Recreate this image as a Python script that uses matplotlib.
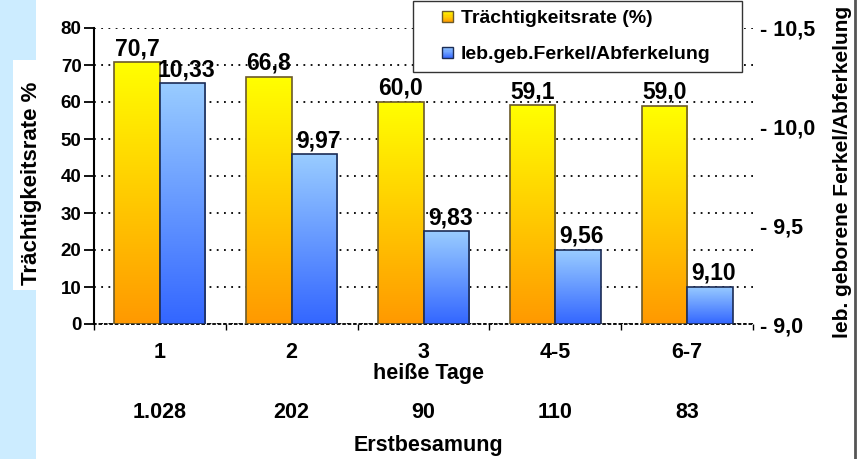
import numpy as np
import matplotlib
matplotlib.use("Agg")
import matplotlib.pyplot as plt
from matplotlib.patches import Rectangle
from matplotlib.lines import Line2D
from matplotlib.legend_handler import HandlerBase
from matplotlib.colors import LinearSegmentedColormap, to_rgb

plt.rcParams['font.family'] = ['Liberation Sans', 'DejaVu Sans']
plt.rcParams['font.weight'] = 'bold'

# --- data ---
tage = ['1', '2', '3', '4-5', '6-7']
erstbesamung = ['1.028', '202', '90', '110', '83']
traechtigkeit = [70.7, 66.8, 60.0, 59.1, 59.0]
ferkel_labels = ['10,33', '9,97', '9,83', '9,56', '9,10']
ferkel_bar = [10.22, 9.86, 9.47, 9.375, 9.19]   # heights as drawn in the original chart
right_ticks = [9.0, 9.5, 10.0, 10.5]

YEL_TOP, YEL_BOT, YEL_EDGE = '#FFFF00', '#FF9900', '#6b5a2a'
BLU_TOP, BLU_BOT, BLU_EDGE = '#99CCFF', '#3366FF', '#1c2c55'

W, H = 868, 459
def fx(px):
    return px / W
def fy(py):
    return 1 - py / H

fig = plt.figure(figsize=(W / 100, H / 100), dpi=100, facecolor='white')

# hintergrund links + rahmenlinie rechts
fig.patches.append(Rectangle((0, 0), fx(36), 1, transform=fig.transFigure,
                             facecolor='#CCECFF', edgecolor='none', zorder=-2))
fig.patches.append(Rectangle((fx(13), fy(290)), fx(27), (290 - 60) / H, transform=fig.transFigure,
                             facecolor='white', edgecolor='none', zorder=-1))
fig.add_artist(Line2D([fx(855)] * 2, [0, 1], transform=fig.transFigure, color='#555555', lw=2))

ax = fig.add_axes([fx(94), fy(324), fx(753 - 94), (324 - 28) / H])
ax2 = ax.twinx()

x = np.arange(len(tage))
w = 0.345


def gradient_bars(axis, xs, heights, base, top, bottom, edge):
    cmap = LinearSegmentedColormap.from_list('g', [bottom, top])
    bars = axis.bar(xs, np.array(heights) - base, w, bottom=base, facecolor='none',
                    edgecolor=edge, lw=1.2, zorder=3)
    grad = np.linspace(0, 1, 256).reshape(-1, 1)
    for b in bars:
        x0, y0, bw, bh = b.get_x(), b.get_y(), b.get_width(), b.get_height()
        im = axis.imshow(grad, extent=(x0, x0 + bw, y0, y0 + bh), origin='lower',
                         aspect='auto', cmap=cmap, zorder=2, interpolation='bilinear')
        im.set_clip_path(b)
    return bars


yb = gradient_bars(ax, x - w / 2, traechtigkeit, 0, YEL_TOP, YEL_BOT, YEL_EDGE)
bb = gradient_bars(ax2, x + w / 2, ferkel_bar, 9.0, BLU_TOP, BLU_BOT, BLU_EDGE)

for b, v in zip(yb, traechtigkeit):
    ax.annotate(f'{v:.1f}'.replace('.', ','), (b.get_x() + b.get_width() / 2, b.get_height()),
                xytext=(0, 1.5), textcoords='offset points', ha='center', va='bottom', fontsize=16.5)
for b, lab in zip(bb, ferkel_labels):
    ax2.annotate(lab, (b.get_x() + b.get_width() / 2 + 0.03, b.get_y() + b.get_height()),
                 xytext=(0, 1.5), textcoords='offset points', ha='center', va='bottom', fontsize=16.5)

# --- achsen ---
ax.set_xlim(-0.5, len(tage) - 0.5)
ax.set_ylim(0, 80)
ax2.set_ylim(9.0, 10.5)

ax.set_axisbelow(True)
ax.yaxis.grid(True, linestyle=(0, (1, 3)), color='black', lw=1.3)
for s in ['top', 'right']:
    ax.spines[s].set_visible(False)
for s in ax2.spines.values():
    s.set_visible(False)
ax.spines['left'].set_linewidth(1.5)
ax.spines['bottom'].set_linestyle((0, (1, 2)))
ax.spines['bottom'].set_linewidth(1.3)

ax.set_yticks(range(0, 81, 10))
ax.tick_params(axis='y', length=7, width=1.3, labelsize=13.5, pad=2)
ax.set_xticks(x)
ax.set_xticklabels(tage)
ax.set_xticks(np.arange(-0.5, len(tage)), minor=True)
ax.tick_params(axis='x', which='major', length=0, pad=13, labelsize=15.5)
ax.tick_params(axis='x', which='minor', length=4, width=1)

ax2.set_yticks(right_ticks)
ax2.set_yticklabels([f'- {t:.1f}'.replace('.', ',') for t in right_ticks])
ax2.tick_params(axis='y', length=0, labelsize=15.5, pad=5)

ax.text(0.507, (324 - 373) / 296, 'heiße Tage', transform=ax.transAxes,
        ha='center', va='center', fontsize=15.5)
for xi, n in zip(x, erstbesamung):
    ax.text(xi, (324 - 413) / 296, n, transform=ax.get_xaxis_transform(),
            ha='center', va='center', fontsize=15.5)
ax.text(0.507, (324 - 445) / 296, 'Erstbesamung', transform=ax.transAxes,
        ha='center', va='center', fontsize=15.5)

fig.text(fx(32), fy(183), 'Trächtigkeitsrate %', rotation=90, ha='center', va='center', fontsize=16)
fig.text(fx(843), fy(172), 'leb. geborene Ferkel/Abferkelung', rotation=90,
         ha='center', va='center', fontsize=15)


# --- legende mit verlaufsquadraten ---
class GradientHandler(HandlerBase):
    def __init__(self, top, bottom, edge):
        super().__init__()
        self.top, self.bottom, self.edge = to_rgb(top), to_rgb(bottom), edge

    def create_artists(self, legend, orig_handle, xdescent, ydescent, width, height, fontsize, trans):
        s = 8.0
        x0 = width - xdescent - s
        y0 = -ydescent + (height - s) / 2
        n = 10
        arts = []
        for i in range(n):
            t = (i + 0.5) / n
            c = [b + (tp - b) * t for b, tp in zip(self.bottom, self.top)]
            arts.append(Rectangle((x0, y0 + i * s / n), s, s / n * 1.05, facecolor=c,
                                  edgecolor='none', transform=trans))
        arts.append(Rectangle((x0, y0), s, s, facecolor='none', edgecolor=self.edge,
                              lw=1, transform=trans))
        return arts


h1 = Rectangle((0, 0), 1, 1)
h2 = Rectangle((0, 0), 1, 1)
leg = ax2.legend([h1, h2], ['Trächtigkeitsrate (%)', 'leb.geb.Ferkel/Abferkelung'],
                 handler_map={h1: GradientHandler(YEL_TOP, YEL_BOT, YEL_EDGE),
                              h2: GradientHandler(BLU_TOP, BLU_BOT, BLU_EDGE)},
                 loc='upper left', bbox_to_anchor=(fx(413), fy(68), fx(742 - 413), (68 - 1) / H),
                 bbox_transform=fig.transFigure, mode='expand', borderaxespad=0,
                 fancybox=False, framealpha=1, edgecolor='#333333',
                 prop={'weight': 'bold', 'size': 14}, handlelength=1.6,
                 handletextpad=0.4, labelspacing=0.95, borderpad=0.45)
leg.get_frame().set_linewidth(1.0)

fig.savefig('out.png', dpi=100, facecolor='white')
